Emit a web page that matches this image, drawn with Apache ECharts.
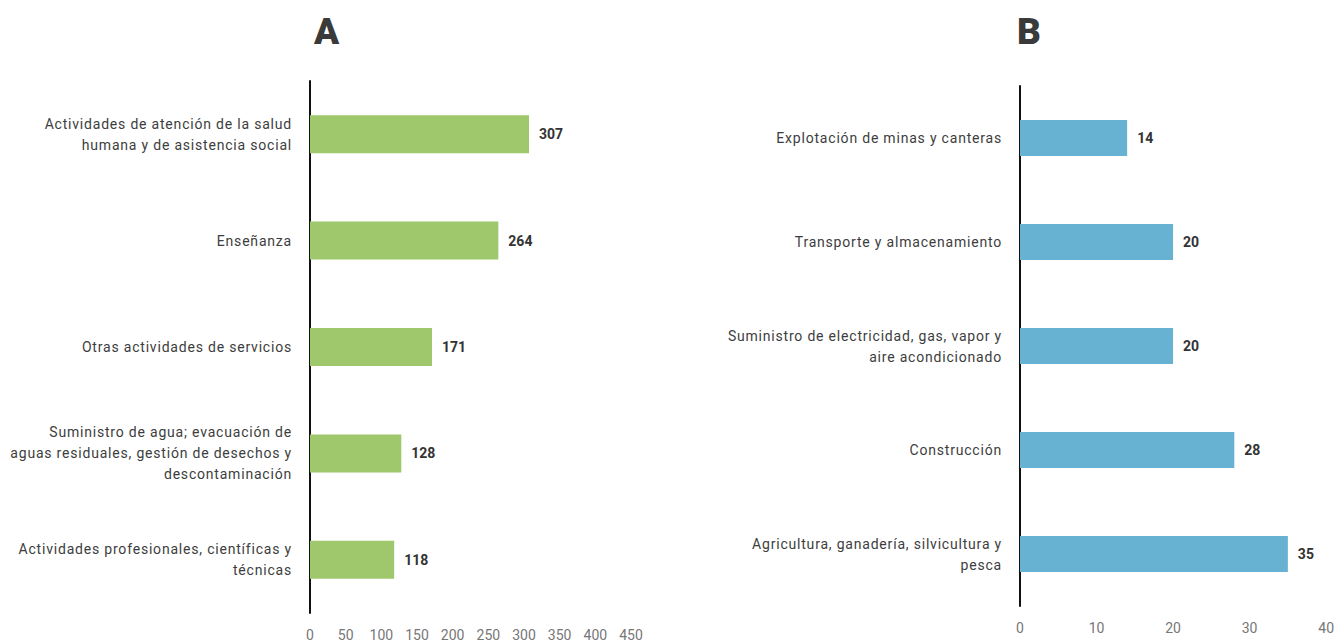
<!DOCTYPE html>
<html>
<head>
<meta charset="utf-8">
<script src="https://cdn.jsdelivr.net/npm/echarts@6/dist/echarts.min.js"></script>
<style>
  html, body { margin: 0; padding: 0; background: #fff; }
  #main { width: 1337px; height: 642px; }
  /* category labels in the reference are tracked out a bit */
  #main text[text-anchor="end"] { letter-spacing: 0.8px; }
</style>
</head>
<body>
<div id="main"></div>
<script>
// Panel A
const catsA = [
  'Actividades de atención de la salud\nhumana y de asistencia social',
  'Enseñanza',
  'Otras actividades de servicios',
  'Suministro de agua; evacuación de\naguas residuales, gestión de desechos y\ndescontaminación',
  'Actividades profesionales, científicas y\ntécnicas'
];
const valsA = [307, 264, 171, 128, 118];

// Panel B
const catsB = [
  'Explotación de minas y canteras',
  'Transporte y almacenamiento',
  'Suministro de electricidad, gas, vapor y\naire acondicionado',
  'Construcción',
  'Agricultura, ganadería, silvicultura y\npesca'
];
const valsB = [14, 20, 20, 28, 35];

const FONT = 'Roboto, "Noto Sans", sans-serif';

const chart = echarts.init(document.getElementById('main'), null, { renderer: 'svg' });

const catAxis = (idx, data) => ({
  type: 'category',
  gridIndex: idx,
  data: data,
  inverse: true,
  axisLine: { show: true, lineStyle: { color: '#111', width: 2 } },
  axisTick: { show: false },
  axisLabel: {
    margin: 18,
    fontFamily: FONT,
    fontSize: 14,
    color: '#3d3d3d',
    lineHeight: 21,
    align: 'right',
    padding: [3, 0, 0, 0]
  }
});

const valAxis = (idx, max, interval, margin) => ({
  type: 'value',
  gridIndex: idx,
  min: 0,
  max: max,
  interval: interval,
  axisLine: { show: false },
  axisTick: { show: false },
  splitLine: { show: false },
  axisLabel: {
    margin: margin,
    fontFamily: FONT,
    fontSize: 14,
    color: '#777'
  }
});

const labelStyle = {
  show: true,
  position: 'right',
  distance: 10,
  fontFamily: FONT,
  fontSize: 14,
  fontWeight: 'bold',
  color: '#333',
  padding: [4, 0, 0, 0]
};

chart.setOption({
  animation: false,
  title: [
    { text: 'A', left: 309, top: 8, textStyle: { fontFamily: FONT, fontSize: 37, fontWeight: 900, color: '#3a3a3a' } },
    { text: 'B', left: 1012, top: 8, textStyle: { fontFamily: FONT, fontSize: 37, fontWeight: 900, color: '#3a3a3a' } }
  ],
  grid: [
    { left: 310, width: 321, top: 81, height: 532 },
    { left: 1020, width: 311, top: 86, height: 520 }
  ],
  yAxis: [catAxis(0, catsA), catAxis(1, catsB)],
  xAxis: [valAxis(0, 450, 50, 15), valAxis(1, 40, 10, 15)],
  series: [
    {
      type: 'bar',
      xAxisIndex: 0,
      yAxisIndex: 0,
      data: valsA,
      barWidth: 38,
      itemStyle: { color: '#9ec86b' },
      label: labelStyle
    },
    {
      type: 'bar',
      xAxisIndex: 1,
      yAxisIndex: 1,
      data: valsB,
      barWidth: 36,
      itemStyle: { color: '#67b2d3' },
      label: labelStyle
    }
  ]
});
</script>
</body>
</html>
